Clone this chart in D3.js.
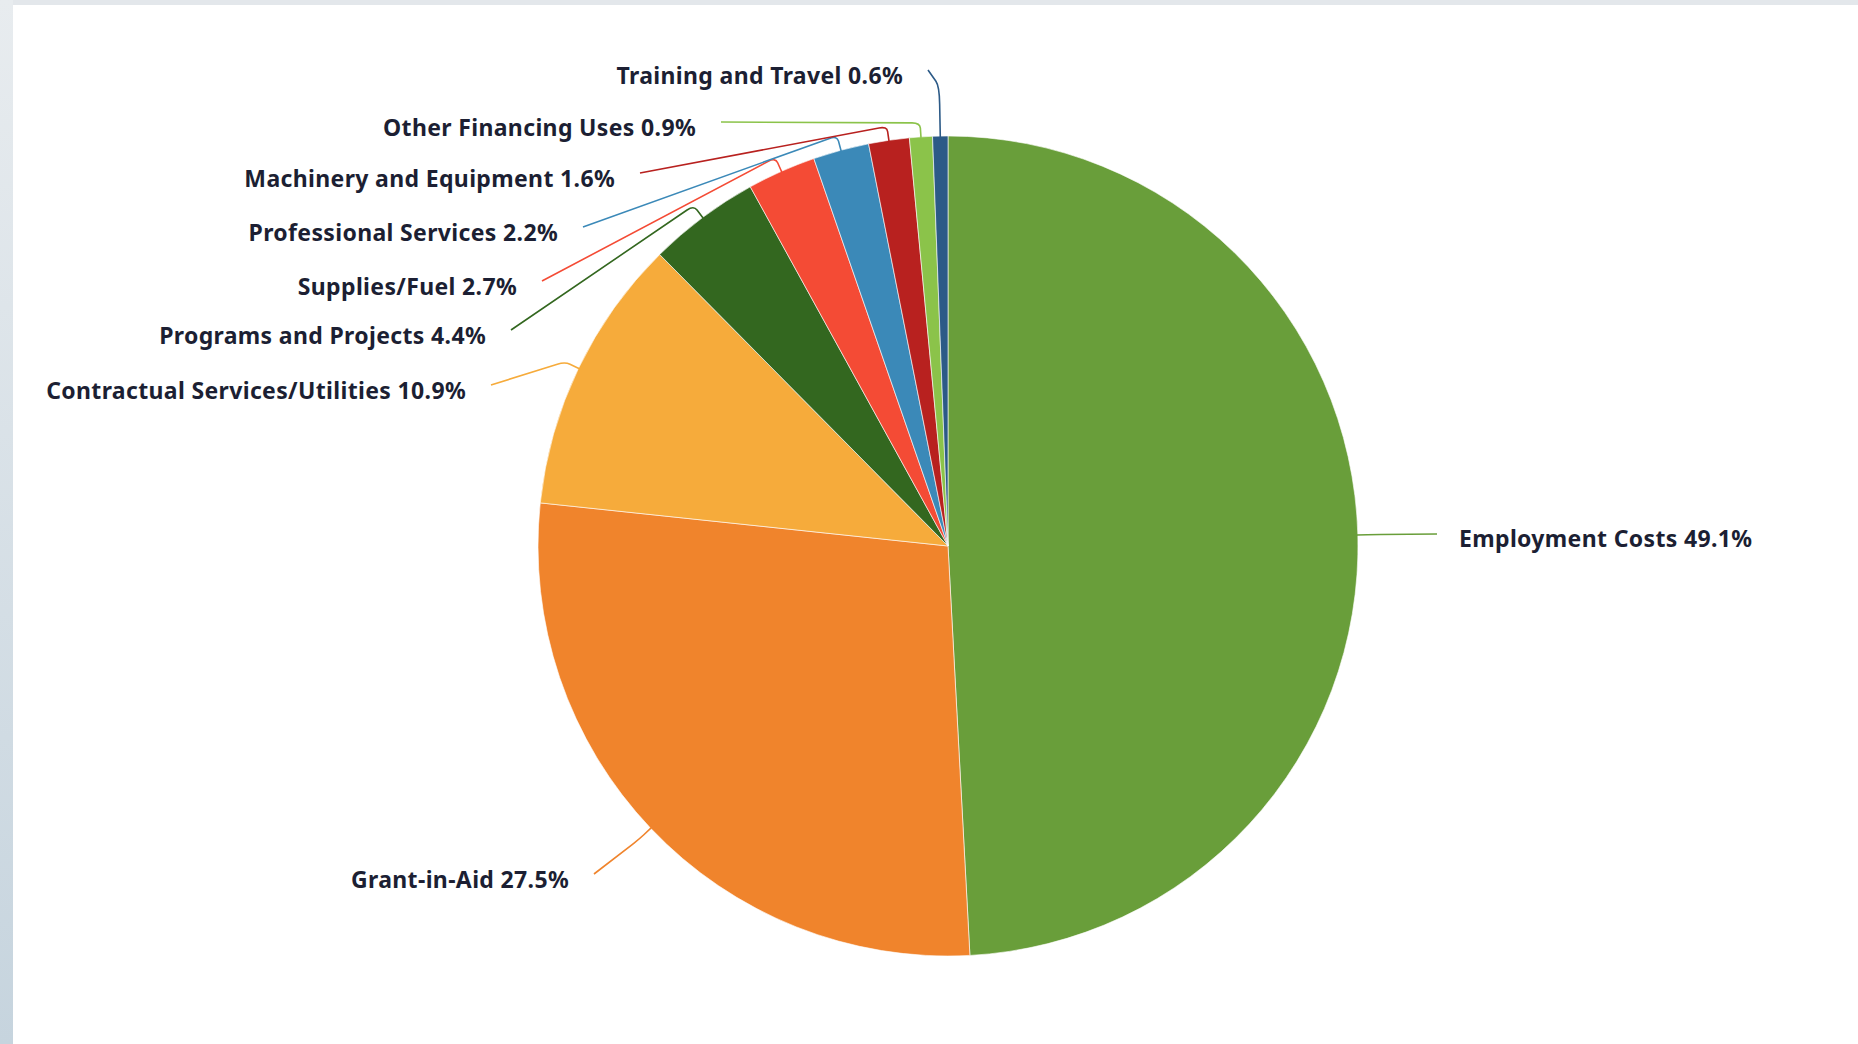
<!DOCTYPE html>
<html>
<head>
<meta charset="utf-8">
<script src="https://cdn.jsdelivr.net/npm/d3@7"></script>
<style>
  html, body { margin: 0; padding: 0; background: #ffffff; overflow: hidden; }
  svg { display: block; }
  .lbl { font-family: "Noto Sans", "Open Sans", sans-serif; font-weight: 700; fill: #1c1f33; }
</style>
</head>
<body>
<svg id="chart" width="1858" height="1044"></svg>
<script>
// ---- Data ----
const categories = [
  "Employment Costs",
  "Grant-in-Aid",
  "Contractual Services/Utilities",
  "Programs and Projects",
  "Supplies/Fuel",
  "Professional Services",
  "Machinery and Equipment",
  "Other Financing Uses",
  "Training and Travel"
];
const values = [49.1, 27.5, 10.9, 4.4, 2.7, 2.2, 1.6, 0.9, 0.6];
const colors = ["#699e3a", "#f0842c", "#f6ab3b", "#33671f", "#f44b35", "#3b89b8", "#b8211f", "#8bc34a", "#2c5a87"];

// ---- Layout (label placement, separate from data) ----
const labelLayout = [
  { x: 1459, y: 538, anchor: "start", bend: 15 },
  { x: 569,  y: 879, anchor: "end",   bend: 15 },
  { x: 466,  y: 390, anchor: "end",   bend: 15 },
  { x: 486,  y: 335, anchor: "end",   bend: 15 },
  { x: 517,  y: 286, anchor: "end",   bend: 15 },
  { x: 558,  y: 232, anchor: "end",   bend: 15 },
  { x: 615,  y: 178, anchor: "end",   bend: 14 },
  { x: 696,  y: 127, anchor: "end",   bend: 14 },
  { x: 903,  y: 75,  anchor: "end",   bend: 50 }
];

const W = 1858, H = 1044;
const cx = 948, cy = 546, R = 410;
const svg = d3.select("#chart");

// page frame background
const defs = svg.append("defs");
const grad = defs.append("linearGradient").attr("id", "leftStrip").attr("x1", 0).attr("y1", 0).attr("x2", 0).attr("y2", 1);
grad.append("stop").attr("offset", "0%").attr("stop-color", "#e8ecef");
grad.append("stop").attr("offset", "100%").attr("stop-color", "#c6d4de");
svg.append("rect").attr("x", 0).attr("y", 0).attr("width", W).attr("height", H).attr("fill", "#ffffff");
svg.append("rect").attr("x", 0).attr("y", 0).attr("width", W).attr("height", 5).attr("fill", "#e3e7eb");
svg.append("rect").attr("x", 0).attr("y", 0).attr("width", 13).attr("height", H).attr("fill", "url(#leftStrip)");

const pie = d3.pie().sort(null).value(d => d)(values);
const arc = d3.arc().innerRadius(0).outerRadius(R);

const g = svg.append("g").attr("transform", `translate(${cx},${cy})`);
g.selectAll("path.slice")
  .data(pie)
  .join("path")
  .attr("class", "slice")
  .attr("d", arc)
  .attr("fill", (d, i) => colors[i])
  .attr("stroke", "#ffffff")
  .attr("stroke-width", 1)
  .attr("stroke-opacity", 0.6);

// connectors
const pt = (a, r) => [cx + Math.sin(a) * r, cy - Math.cos(a) * r];
const conn = svg.append("g");
pie.forEach((d, i) => {
  const L = labelLayout[i];
  const mid = (d.startAngle + d.endAngle) / 2;
  const p0 = pt(mid, R - 1);
  const p1 = pt(mid, R + L.bend);
  const end = L.anchor === "start" ? [L.x - 22, L.y - 4] : [L.x + 25, L.y - 5];
  const t = 0.35;
  const a1 = [p1[0] + (p0[0] - p1[0]) * t, p1[1] + (p0[1] - p1[1]) * t];
  const dx = end[0] - p1[0], dy = end[1] - p1[1];
  const len = Math.hypot(dx, dy);
  const k = Math.min(8, len * 0.3) / len;
  const a2 = [p1[0] + dx * k, p1[1] + dy * k];
  const path = d3.path();
  path.moveTo(p0[0], p0[1]);
  path.lineTo(a1[0], a1[1]);
  path.quadraticCurveTo(p1[0], p1[1], a2[0], a2[1]);
  path.lineTo(end[0], end[1]);
  conn.append("path")
    .attr("d", path.toString())
    .attr("fill", "none")
    .attr("stroke", colors[i])
    .attr("stroke-width", 1.6);
});

// labels
const lg = svg.append("g");
pie.forEach((d, i) => {
  const L = labelLayout[i];
  lg.append("text")
    .attr("class", "lbl")
    .attr("x", L.x)
    .attr("y", L.y)
    .attr("text-anchor", L.anchor)
    .attr("dominant-baseline", "central")
    .attr("font-size", 23)
    .attr("letter-spacing", 0.35)
    .text(`${categories[i]} ${values[i]}%`);
});
</script>
</body>
</html>
